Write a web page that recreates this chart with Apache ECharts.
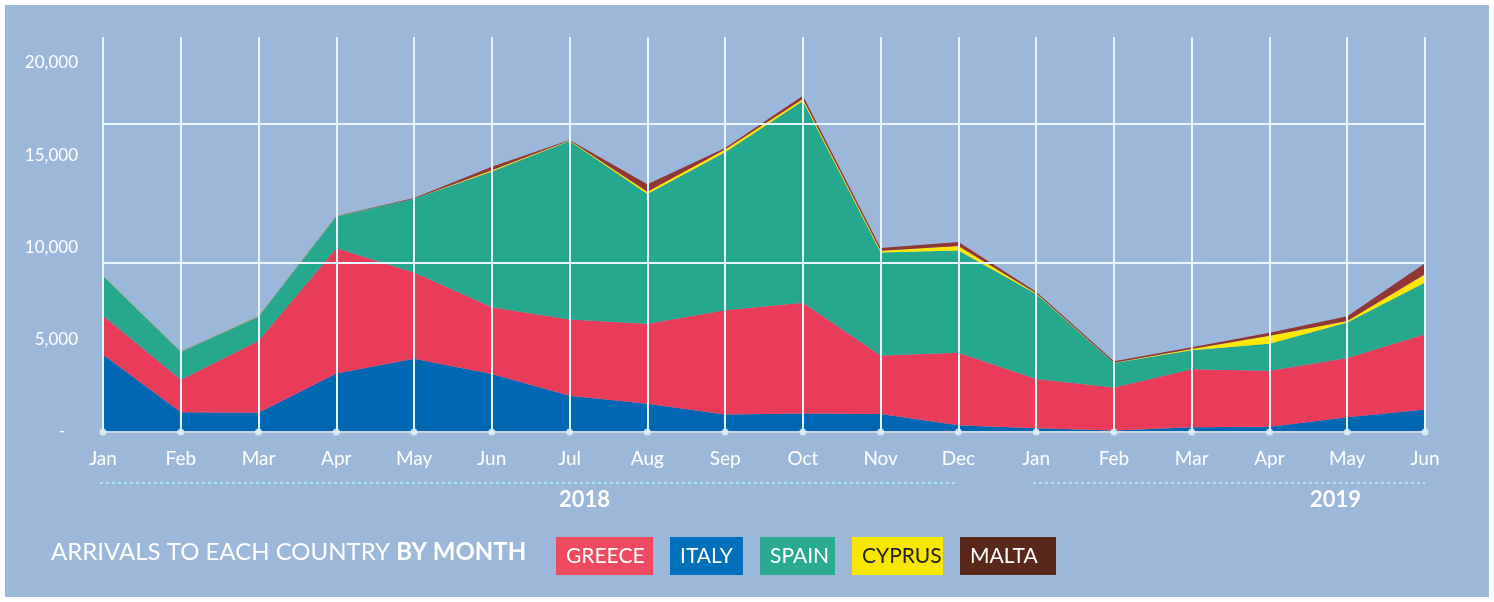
<!DOCTYPE html>
<html>
<head>
<meta charset="utf-8">
<script src="https://cdn.jsdelivr.net/npm/echarts@6/dist/echarts.min.js"></script>
<style>
  html, body { margin: 0; padding: 0; background: #ffffff; }
  #chart { position: absolute; left: 5px; top: 5px; width: 1484px; height: 592px; }
</style>
</head>
<body>
<div id="chart"></div>
<script>
const months = ['Jan','Feb','Mar','Apr','May','Jun','Jul','Aug','Sep','Oct','Nov','Dec','Jan','Feb','Mar','Apr','May','Jun'];
const years = ['2018', '2019'];
const yTicks = [0, 5000, 10000, 15000, 20000];

const italy  = [4182, 1065, 1049, 3171, 3963, 3147, 1969, 1531, 947, 1007, 980, 359, 202, 80, 262, 285, 800, 1218];
const greece = [2110, 1770, 3900, 6790, 4680, 3610, 4120, 4330, 5650, 5990, 3170, 3940, 2670, 2330, 3140, 3030, 3210, 4080];
const spain  = [2170, 1500, 1300, 1720, 3990, 7350, 9670, 7030, 8560, 10940, 5580, 5540, 4610, 1330, 1030, 1470, 1920, 2800];
const cyprus = [10, 10, 10, 10, 10, 80, 30, 125, 145, 110, 90, 235, 40, 15, 70, 430, 90, 455];
const malta  = [10, 10, 10, 10, 30, 190, 25, 400, 90, 165, 145, 215, 80, 80, 90, 165, 255, 595];
const axisDots = months.map(() => 0);
const gridLineValues = [9155, 16685];

const chart = echarts.init(document.getElementById('chart'), null, { renderer: 'canvas' });
const FONT = 'Lato, "Open Sans", sans-serif';
const seriesDefs = [
  { name: 'ITALY',  data: italy,  color: '#0067b2' },
  { name: 'GREECE', data: greece, color: '#e83c59' },
  { name: 'SPAIN',  data: spain,  color: '#26a88e' },
  { name: 'CYPRUS', data: cyprus, color: '#ffe800' },
  { name: 'MALTA',  data: malta,  color: '#923535' }
];
const legendStyles = {
  GREECE: { bg: '#f04a61', fg: '#ffffff', w: 77 },
  ITALY:  { bg: '#0070ba', fg: '#ffffff', w: 53 },
  SPAIN:  { bg: '#2aaa90', fg: '#ffffff', w: 55 },
  CYPRUS: { bg: '#f8e800', fg: '#222222', w: 71 },
  MALTA:  { bg: '#5a2818', fg: '#ffffff', w: 76 }
};
const legendOrder = ['GREECE', 'ITALY', 'SPAIN', 'CYPRUS', 'MALTA'];

const series = seriesDefs.map(s => ({
  name: s.name,
  type: 'line',
  stack: 'total',
  data: s.data,
  symbol: 'none',
  showSymbol: false,
  color: s.color,
  lineStyle: { width: 0 },
  areaStyle: { color: s.color, opacity: 1 },
  emphasis: { disabled: true },
  z: 2
}));
series.push({
  name: 'dots',
  type: 'scatter',
  data: axisDots,
  symbol: 'circle',
  symbolSize: 7,
  itemStyle: { color: '#e6f3fa' },
  silent: true,
  z: 12,
  markLine: {
    silent: true,
    symbol: 'none',
    label: { show: false },
    lineStyle: { color: '#e8f4fb', width: 2, type: 'solid' },
    data: gridLineValues.map(v => ({ yAxis: v }))
  }
});

const option = {
  backgroundColor: '#9bb8db',
  animation: false,
  textStyle: { fontFamily: FONT },
  grid: { left: 98, right: 64, top: 32, bottom: 165, containLabel: false },
  title: {
    left: 46,
    top: 532,
    padding: 0,
    text: '{a|ARRIVALS TO EACH COUNTRY }{b|BY MONTH}',
    textStyle: {
      rich: {
        a: { fontFamily: FONT, fontSize: 24, color: '#ffffff', fontWeight: 'normal', lineHeight: 30 },
        b: { fontFamily: FONT, fontSize: 24, color: '#ffffff', fontWeight: 'bold', lineHeight: 30 }
      }
    }
  },
  legend: {
    left: 546,
    top: 532,
    padding: 0,
    itemGap: 12,
    itemWidth: 0,
    itemHeight: 0,
    icon: 'rect',
    selectedMode: false,
    data: legendOrder.map(n => ({
      name: n,
      textStyle: {
        color: legendStyles[n].fg,
        backgroundColor: legendStyles[n].bg,
        fontFamily: FONT,
        fontSize: 21,
        lineHeight: 22,
        width: legendStyles[n].w,
        align: 'center',
        padding: [8, 10, 8, 10]
      }
    }))
  },
  xAxis: {
    type: 'category',
    data: months,
    boundaryGap: false,
    z: 10,
    axisLine: { show: true, lineStyle: { color: '#c9d7e6', width: 2 } },
    axisTick: { show: false },
    axisLabel: { color: '#ffffff', fontSize: 19, fontFamily: FONT, margin: 17, interval: 0 },
    splitLine: { show: true, lineStyle: { color: '#e8f4fb', width: 2 } }
  },
  yAxis: {
    type: 'value',
    min: 0,
    max: 21400,
    interval: 5000,
    z: 10,
    axisLine: { show: false },
    axisTick: { show: false },
    splitLine: { show: false },
    axisLabel: {
      color: '#ffffff',
      fontSize: 17,
      fontFamily: FONT,
      margin: 25,
      showMaxLabel: false,
      formatter: v => {
        if (!yTicks.includes(v)) return '';
        return v === 0 ? '-   ' : v.toLocaleString('en-US');
      }
    }
  },
  graphic: [
    { type: 'line', shape: { x1: 95, y1: 478, x2: 953, y2: 478 },
      style: { stroke: '#a8e6f2', lineWidth: 2, lineDash: [3, 3] }, silent: true },
    { type: 'line', shape: { x1: 1028, y1: 478, x2: 1420, y2: 478 },
      style: { stroke: '#a8e6f2', lineWidth: 2, lineDash: [3, 3] }, silent: true },
    { type: 'text', left: 554, top: 484, silent: true,
      style: { text: years[0], fill: '#ffffff', font: 'bold 22px ' + FONT } },
    { type: 'text', left: 1305, top: 484, silent: true,
      style: { text: years[1], fill: '#ffffff', font: 'bold 22px ' + FONT } }
  ],
  series: series
};
chart.setOption(option);
</script>
</body>
</html>
